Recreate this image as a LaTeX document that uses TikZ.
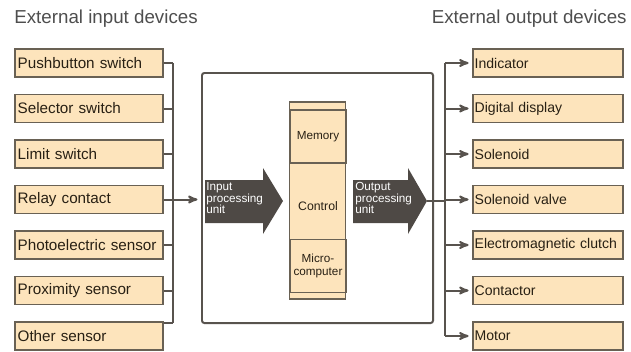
\documentclass[tikz,border=0pt]{standalone}
\usepackage{fontspec}
\setmainfont{Liberation Sans}
\usetikzlibrary{arrows,positioning,calc}
\definecolor{devfill}{RGB}{253,228,188}
\definecolor{devline}{RGB}{105,97,84}
\definecolor{wiregray}{RGB}{88,83,78}
\definecolor{unitdark}{RGB}{78,73,69}
\definecolor{titlegray}{RGB}{78,78,78}
\definecolor{devtext}{RGB}{40,32,20}
\begin{document}
\begin{tikzpicture}[x=0.03cm, y=-0.03cm, >=stealth', semithick, node distance=1.365cm]
\tikzstyle{device}=[draw=devline, line width=1.5pt, fill=devfill, text=devtext, minimum height=0.84cm, inner xsep=0.08cm, text width=4.28cm, align=left, font=\fontsize{13}{13}\selectfont]
\tikzstyle{outdevice}=[device, inner xsep=0.05cm, text width=4.40cm, font=\fontsize{12}{12}\selectfont]
\tikzstyle{title}=[text=titlegray, font=\fontsize{16}{16}\selectfont, inner sep=0pt]
\tikzstyle{wire}=[draw=wiregray, line width=1.7pt]
\tikzstyle{unittext}=[text=white, align=left, inner sep=0pt, font=\fontsize{10}{10}\selectfont]
\tikzstyle{part}=[draw=devline, line width=1.2pt, fill=devfill, text=devtext, minimum width=1.68cm, minimum height=1.59cm, align=center, inner sep=0pt, font=\fontsize{10}{10.5}\selectfont]
\useasboundingbox (0,0) rectangle (631,351);

\node[title, anchor=west]  (intitle)  at (14,19)  {External input devices};
\node[title, anchor=east]  (outtitle) at (627,19) {External output devices};

% input devices
\node[device]  (pb)  at (89,63)  {Pushbutton switch};
\node[device]  (sel) [below of=pb]  {Selector switch};
\node[device]  (lim) [below of=sel] {Limit switch};
\node[device]  (rel) [below of=lim] {Relay contact};
\node[device]  (pho) [below of=rel] {Photoelectric sensor};
\node[device]  (pro) [below of=pho] {Proximity sensor};
\node[device]  (oth) [below of=pro] {Other sensor};

% output devices
\node[outdevice] (ind) at (548,63)  {Indicator};
\node[outdevice] (dig) [below of=ind] {Digital display};
\node[outdevice] (sol) [below of=dig] {Solenoid};
\node[outdevice] (val) [below of=sol] {Solenoid valve};
\node[outdevice] (clu) [below of=val] {Electromagnetic clutch};
\node[outdevice] (con) [below of=clu] {Contactor};
\node[outdevice] (mot) [below of=con] {Motor};

% controller
\node[draw=wiregray, line width=1.7pt, rounded corners=2pt, minimum width=6.93cm, minimum height=7.5cm] (main) at (317.5,198) {};
\node[part, minimum height=5.91cm] (cpu) at (317.5,200.5) {};
\node[part] (mem)   at (318,136.5) {Memory};
\node[part] (micro) at (318,266)   {Micro-\\computer};
\node[text=devtext, font=\fontsize{10.5}{10.5}\selectfont, inner sep=0pt] (ctl) at (318,206) {Control};

\fill[unitdark] (205,180) -- (263,180) -- (263,168) -- (283,201) -- (263,234) -- (263,223) -- (205,223) -- cycle;
\fill[unitdark] (353,180) -- (408,180) -- (408,168) -- (427,201) -- (408,234) -- (408,223) -- (353,223) -- cycle;
\node[unittext, anchor=north west] (inu)  at (206,182) {Input\\processing\\unit};
\node[unittext, anchor=north west] (outu) at (355,182) {Output\\processing\\unit};
\coordinate (otip) at (427,201);

% wiring
\coordinate (ibus) at (173,0);
\coordinate (obus) at (445,0);
\foreach \n in {pb,sel,lim,rel,pho,pro}
  \draw[wire] (\n.east) -- (\n.east -| ibus);
\draw[wire] ([yshift=-0.06cm]oth.north east) -- ([yshift=-0.06cm]oth.north east -| ibus);
\draw[wire] (pb.east -| ibus) -- ([yshift=-0.06cm]oth.north east -| ibus);
\draw[wire, ->, shorten >=3pt] (rel.east -| ibus) -- (rel.east -| main.west);

\draw[wire] (otip) -- (otip -| obus);
\draw[wire] (ind.west -| obus) -- (mot.west -| obus);
\foreach \n in {ind,dig,sol,val,clu,con,mot}
  \draw[wire, ->, shorten >=3pt] (\n.west -| obus) -- (\n.west);
\end{tikzpicture}
\end{document}
